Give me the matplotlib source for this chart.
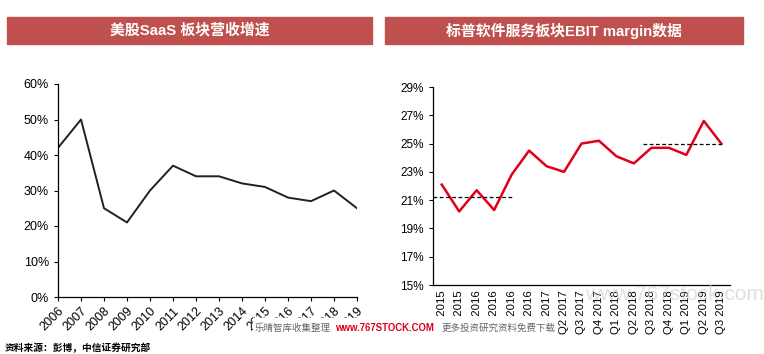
import matplotlib.pyplot as plt
from matplotlib.patches import Rectangle
from matplotlib.ticker import FuncFormatter

plt.rcParams['font.family'] = ['Liberation Sans', 'Noto Sans CJK SC', 'DejaVu Sans']

# --- data ---
years = ['2006', '2007', '2008', '2009', '2010', '2011', '2012', '2013',
         '2014', '2015', '2016', '2017', '2018', '2019']
saas_growth = [42, 50, 25, 21, 30, 37, 34, 34, 32, 31, 28, 27, 30, 25]

quarters = ['Q3 2015', 'Q4 2015', 'Q1 2016', 'Q2 2016', 'Q3 2016', 'Q4 2016',
            'Q1 2017', 'Q2 2017', 'Q3 2017', 'Q4 2017', 'Q1 2018', 'Q2 2018',
            'Q3 2018', 'Q4 2018', 'Q1 2019', 'Q2 2019', 'Q3 2019']
ebit_margin = [22.1, 20.2, 21.7, 20.3, 22.8, 24.5, 23.4, 23.0, 25.0, 25.2,
               24.1, 23.6, 24.7, 24.7, 24.2, 26.6, 25.0]
avg_early = 21.25   # 2015-2016 average
avg_late = 25.0     # recent average

title_left = '美股SaaS 板块营收增速'
title_right = '标普软件服务板块EBIT margin数据'
source = '资料来源：彭博，中信证券研究部'

bar_color = '#C0504D'
W, H = 764, 354
fig = plt.figure(figsize=(W / 100, H / 100), dpi=100)


def fx(px):
    return px / W


def fy(py):
    return 1 - py / H


# title bars
for x0, x1, txt in [(7, 372, title_left), (385, 743, title_right)]:
    fig.patches.append(Rectangle((fx(x0), fy(44)), fx(x1) - fx(x0), fy(17) - fy(44),
                                 transform=fig.transFigure, color=bar_color, zorder=1))
    fig.text(fx((x0 + x1) / 2), fy(30.5), txt, color='white', fontsize=10.7,
             fontweight='bold', ha='center', va='center',
             family=['Liberation Sans', 'Noto Sans CJK SC'], zorder=2)

pct = FuncFormatter(lambda v, _: f'{v:.0f}%')

# --- left chart ---
ax1 = fig.add_axes([fx(58), fy(297), fx(357) - fx(58), fy(84) - fy(297)])
ax1.plot(range(len(years)), saas_growth, color='#231F20', lw=1.4)
ax1.set_xlim(0, len(years) - 1)
ax1.set_ylim(0, 60)
ax1.set_yticks(range(0, 61, 10))
ax1.yaxis.set_major_formatter(pct)
ax1.set_xticks(range(len(years)))
ax1.set_xticklabels(years, rotation=45, ha='right', rotation_mode='anchor')
ax1.tick_params(axis='y', labelsize=9, length=3, width=0.8, direction='out')
ax1.tick_params(axis='x', labelsize=9, length=3, width=0.8, direction='out', pad=3)

# --- right chart ---
ax2 = fig.add_axes([fx(433), fy(285), fx(730) - fx(433), fy(87) - fy(285)])
xs = range(len(quarters))
ax2.plot(xs, ebit_margin, color='#E0001B', lw=1.8)
ax2.plot([-0.5, 4.1], [avg_early, avg_early], color='black', lw=0.9, ls=(0, (3, 2)))
ax2.plot([11.5, 16.1], [avg_late, avg_late], color='black', lw=0.9, ls=(0, (3, 2)))
ax2.set_xlim(-0.5, len(quarters) - 0.5)
ax2.set_ylim(15, 29)
ax2.set_yticks(range(15, 30, 2))
ax2.yaxis.set_major_formatter(pct)
ax2.set_xticks(list(xs))
ax2.set_xticklabels(quarters, rotation=90, ha='center', va='top')
ax2.tick_params(axis='y', labelsize=8.5, length=3, width=0.8)
ax2.tick_params(axis='x', labelsize=8.2, length=0, pad=4)

for ax in (ax1, ax2):
    for s in ('top', 'right'):
        ax.spines[s].set_visible(False)
    for s in ('left', 'bottom'):
        ax.spines[s].set_linewidth(0.9)

# watermark band over the tick labels
fig.patches.append(Rectangle((fx(253), fy(338)), fx(557) - fx(253), fy(318) - fy(338),
                             transform=fig.transFigure, color='white', zorder=5))
fig.text(fx(255), fy(328), '乐晴智库收集整理', color='#666666', fontsize=6.8,
         ha='left', va='center', family=['Noto Sans CJK SC'], zorder=6)
fig.text(fx(335), fy(328), 'www.767STOCK.COM', color='#E0001B', fontsize=6.9,
         fontweight='bold', ha='left', va='center', zorder=6)
fig.text(fx(442), fy(328), '更多投资研究资料免费下载', color='#666666', fontsize=6.8,
         ha='left', va='center', family=['Noto Sans CJK SC'], zorder=6)
fig.text(fx(585), fy(294), 'www.767stock.com', color='#cccccc', alpha=0.6,
         fontsize=15, ha='left', va='center', zorder=6)

fig.text(fx(5), fy(348), source, fontsize=7, fontweight='bold', ha='left', va='center',
         family=['Noto Sans CJK SC'])

fig.savefig('out.png', dpi=100)
